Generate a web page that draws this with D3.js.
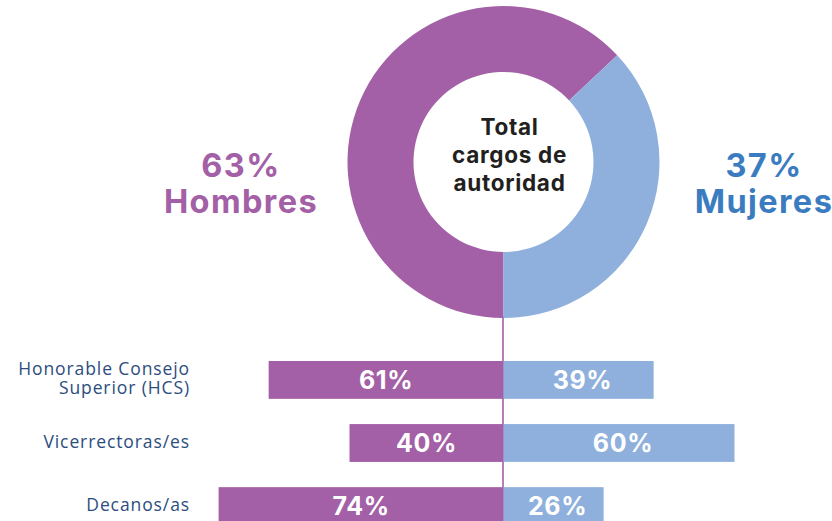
<!DOCTYPE html>
<html><head><meta charset="utf-8">
<script src="https://cdn.jsdelivr.net/npm/d3@7"></script>
<style>html,body{margin:0;padding:0;background:#fff;}svg{display:block;}</style>
</head><body>
<svg id="chart" width="832" height="521"></svg>
<script>
const totalLabels = ["Hombres", "Mujeres"];
const totalValues = [63, 37];
const centerTitle = ["Total", "cargos de", "autoridad"];
const categories = ["Honorable Consejo\nSuperior (HCS)", "Vicerrectoras/es", "Decanos/as"];
const men = [61, 40, 74];
const women = [39, 60, 26];

const purple = "#a360a6", blue = "#8fb0dc";
const fontB = "Inter, 'Open Sans', sans-serif";
const svg = d3.select("#chart");
const W = 832, H = 521;
const cx = 503.5, cy = 162, rOut = 156, rIn = 90;

// axis line
svg.append("line").attr("x1", cx - 0.5).attr("x2", cx - 0.5).attr("y1", cy + rOut - 2).attr("y2", H)
  .attr("stroke", purple).attr("stroke-width", 1.6);

// donut: men clockwise from the bottom, women after
const pie = d3.pie().sort(null).startAngle(Math.PI).endAngle(3 * Math.PI);
const arcs = pie(totalValues);
const arc = d3.arc().innerRadius(rIn).outerRadius(rOut);
svg.append("g").attr("transform", `translate(${cx},${cy})`)
  .selectAll("path").data(arcs).join("path")
  .attr("d", arc).attr("fill", (d, i) => i === 0 ? purple : blue);

const ct = svg.append("text").attr("text-anchor", "middle").attr("font-family", fontB)
  .attr("font-weight", 700).attr("font-size", 22.5).attr("fill", "#231f20").attr("letter-spacing", 0.7);
centerTitle.forEach((t, i) => ct.append("tspan").attr("x", cx + 6).attr("y", cy - 27 + i * 28).text(t));

// big side labels
const sideX = [241, 764], sideCol = [purple, "#3b7cc1"];
totalLabels.forEach((lab, i) => {
  const t = svg.append("text").attr("text-anchor", "middle").attr("font-family", fontB)
    .attr("font-weight", 700).attr("font-size", 32.5).attr("fill", sideCol[i]).attr("letter-spacing", 1.4);
  t.append("tspan").attr("x", sideX[i]).attr("y", 177).text(totalValues[i] + "%");
  t.append("tspan").attr("x", sideX[i]).attr("y", 213).text(lab);
});

// bars
const x = d3.scaleLinear().domain([0, 100]).range([0, 385]);
const y = d3.scaleBand().domain(categories).range([361, 525]).paddingInner(0.4).paddingOuter(0);

const rows = svg.append("g").selectAll("g").data(categories).join("g");
rows.append("rect").attr("x", (d, i) => cx - x(men[i])).attr("y", d => y(d))
  .attr("width", (d, i) => x(men[i])).attr("height", y.bandwidth()).attr("fill", purple);
rows.append("rect").attr("x", cx).attr("y", d => y(d))
  .attr("width", (d, i) => x(women[i])).attr("height", y.bandwidth()).attr("fill", blue);
rows.append("text").attr("text-anchor", "middle").attr("font-family", fontB).attr("font-weight", 700)
  .attr("font-size", 25).attr("fill", "#fff").attr("letter-spacing", 0.6)
  .attr("x", (d, i) => cx - x(men[i]) / 2).attr("y", d => y(d) + y.bandwidth() / 2 + 9)
  .text((d, i) => men[i] + "%");
rows.append("text").attr("text-anchor", "middle").attr("font-family", fontB).attr("font-weight", 700)
  .attr("font-size", 25).attr("fill", "#fff").attr("letter-spacing", 0.6)
  .attr("x", (d, i) => cx + x(women[i]) / 2 + 4).attr("y", d => y(d) + y.bandwidth() / 2 + 9)
  .text((d, i) => women[i] + "%");

// category labels
rows.each(function (d) {
  const lines = d.split("\n");
  const t = d3.select(this).append("text").attr("text-anchor", "end").attr("font-family", "'Open Sans', sans-serif")
    .attr("font-size", 17.5).attr("fill", "#2c4d7e").attr("letter-spacing", 0.9);
  const mid = y(d) + y.bandwidth() / 2 + 4.5;
  lines.forEach((ln, k) => t.append("tspan").attr("x", 190)
    .attr("y", mid + (k - (lines.length - 1) / 2) * 18.5).text(ln));
});
</script>
</body></html>
